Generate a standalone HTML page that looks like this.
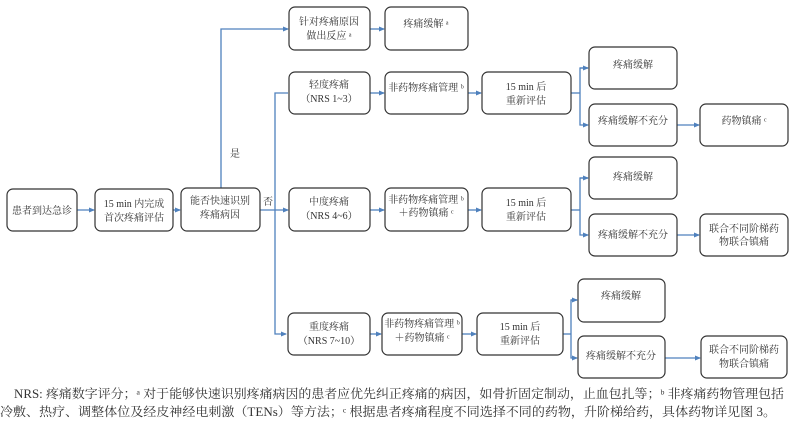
<!DOCTYPE html>
<html><head><meta charset="utf-8"><style>
body{margin:0;background:#fff;}
svg text{font-family:"Liberation Serif","Noto Serif CJK SC","Noto Sans CJK SC",serif;fill:#333;}
</style></head><body>
<svg width="800" height="422" viewBox="0 0 800 422" xmlns="http://www.w3.org/2000/svg">
<defs><marker id="a" markerWidth="6" markerHeight="6" refX="5" refY="3" orient="auto" markerUnits="userSpaceOnUse"><path d="M0,0.5 L6,3 L0,5.5z" fill="#4f81bd"/></marker></defs>
<g fill="none" stroke="#4f81bd" stroke-width="1.3">
<line x1="77" y1="210" x2="94" y2="210" marker-end="url(#a)"/>
<line x1="173" y1="210" x2="180" y2="210" marker-end="url(#a)"/>
<polyline points="221,188 221,29 288,29" marker-end="url(#a)"/>
<line x1="370" y1="29" x2="384" y2="29" marker-end="url(#a)"/>
<line x1="260" y1="210" x2="288" y2="210" marker-end="url(#a)"/>
<polyline points="288,93 275,93 275,334 286,334" marker-end="url(#a)"/>
<line x1="370" y1="93" x2="384" y2="93" marker-end="url(#a)"/>
<line x1="468" y1="93" x2="481" y2="93" marker-end="url(#a)"/>
<line x1="370" y1="210" x2="384" y2="210" marker-end="url(#a)"/>
<line x1="468" y1="210" x2="481" y2="210" marker-end="url(#a)"/>
<line x1="370" y1="334" x2="381" y2="334" marker-end="url(#a)"/>
<line x1="462" y1="334" x2="476" y2="334" marker-end="url(#a)"/>
<polyline points="571,93 580,93"/><polyline points="588,68 580,68 580,125 588,125" marker-end="url(#a)"/><line x1="580" y1="68" x2="588" y2="68" marker-end="url(#a)"/>
<polyline points="571,210 580,210"/><polyline points="588,178 580,178 580,235 588,235" marker-end="url(#a)"/><line x1="580" y1="178" x2="588" y2="178" marker-end="url(#a)"/>
<polyline points="563,334 571,334"/><polyline points="577,300 571,300 571,358 577,358" marker-end="url(#a)"/><line x1="571" y1="300" x2="577" y2="300" marker-end="url(#a)"/>
<line x1="677" y1="125" x2="699" y2="125" marker-end="url(#a)"/>
<line x1="677" y1="235" x2="699" y2="235" marker-end="url(#a)"/>
<line x1="665" y1="358" x2="700" y2="358" marker-end="url(#a)"/>
</g>
<g fill="#fff" stroke="#333" stroke-width="1.2">
<rect x="7" y="189" width="70" height="42" rx="6"/>
<rect x="95" y="189" width="78" height="42" rx="6"/>
<rect x="181" y="188" width="79" height="43" rx="6"/>
<rect x="289" y="7" width="81" height="43" rx="6"/>
<rect x="385" y="7" width="83" height="43" rx="6"/>
<rect x="289" y="72" width="81" height="42" rx="6"/>
<rect x="385" y="72" width="83" height="42" rx="6"/>
<rect x="482" y="72" width="89" height="42" rx="6"/>
<rect x="589" y="47" width="88" height="42" rx="6"/>
<rect x="589" y="104" width="88" height="42" rx="6"/>
<rect x="700" y="104" width="88" height="42" rx="6"/>
<rect x="289" y="188" width="81" height="43" rx="6"/>
<rect x="385" y="188" width="83" height="43" rx="6"/>
<rect x="482" y="188" width="89" height="43" rx="6"/>
<rect x="589" y="157" width="88" height="42" rx="6"/>
<rect x="589" y="214" width="88" height="42" rx="6"/>
<rect x="700" y="214" width="88" height="42" rx="6"/>
<rect x="288" y="313" width="82" height="42" rx="6"/>
<rect x="382" y="313" width="80" height="42" rx="6"/>
<rect x="477" y="313" width="86" height="42" rx="6"/>
<rect x="578" y="279" width="87" height="43" rx="6"/>
<rect x="578" y="336" width="87" height="42" rx="6"/>
<rect x="701" y="336" width="86" height="42" rx="6"/>
</g>
<g font-size="10" text-anchor="middle">
<text x="42" y="214">患者到达急诊</text>
<text x="134" y="207">15 min 内完成</text><text x="134" y="221">首次疼痛评估</text>
<text x="220" y="204">能否快速识别</text><text x="220" y="218">疼痛病因</text>
<text x="329" y="25">针对疼痛原因</text><text x="329" y="39">做出反应 ᵃ</text>
<text x="426" y="27">疼痛缓解 ᵃ</text>
<text x="329" y="88">轻度疼痛</text><text x="329" y="102">（NRS 1~3）</text>
<text x="426" y="91">非药物疼痛管理 ᵇ</text>
<text x="526" y="90">15 min 后</text><text x="526" y="104">重新评估</text>
<text x="633" y="68">疼痛缓解</text>
<text x="633" y="124">疼痛缓解不充分</text>
<text x="744" y="124">药物镇痛 ᶜ</text>
<text x="329" y="205">中度疼痛</text><text x="329" y="219">（NRS 4~6）</text>
<text x="426" y="203">非药物疼痛管理 ᵇ</text><text x="426" y="216">＋药物镇痛 ᶜ</text>
<text x="526" y="206">15 min 后</text><text x="526" y="220">重新评估</text>
<text x="633" y="180">疼痛缓解</text>
<text x="633" y="238">疼痛缓解不充分</text>
<text x="744" y="232">联合不同阶梯药</text><text x="744" y="245">物联合镇痛</text>
<text x="329" y="330">重度疼痛</text><text x="329" y="344">（NRS 7~10）</text>
<text x="422" y="327">非药物疼痛管理 ᵇ</text><text x="422" y="341">＋药物镇痛 ᶜ</text>
<text x="520" y="330">15 min 后</text><text x="520" y="344">重新评估</text>
<text x="621" y="299">疼痛缓解</text>
<text x="621" y="359">疼痛缓解不充分</text>
<text x="744" y="353">联合不同阶梯药</text><text x="744" y="367">物联合镇痛</text>
<text x="235" y="157">是</text>
<text x="268" y="205">否</text>
</g>
<g font-size="12.5">
<text x="14" y="398" textLength="770" lengthAdjust="spacingAndGlyphs">NRS: 疼痛数字评分；ᵃ 对于能够快速识别疼痛病因的患者应优先纠正疼痛的病因，如骨折固定制动，止血包扎等；ᵇ 非疼痛药物管理包括</text>
<text x="0" y="416" textLength="776" lengthAdjust="spacingAndGlyphs">冷敷、热疗、调整体位及经皮神经电刺激（TENs）等方法；ᶜ 根据患者疼痛程度不同选择不同的药物，升阶梯给药，具体药物详见图 3。</text>
</g>
</svg>
</body></html>
